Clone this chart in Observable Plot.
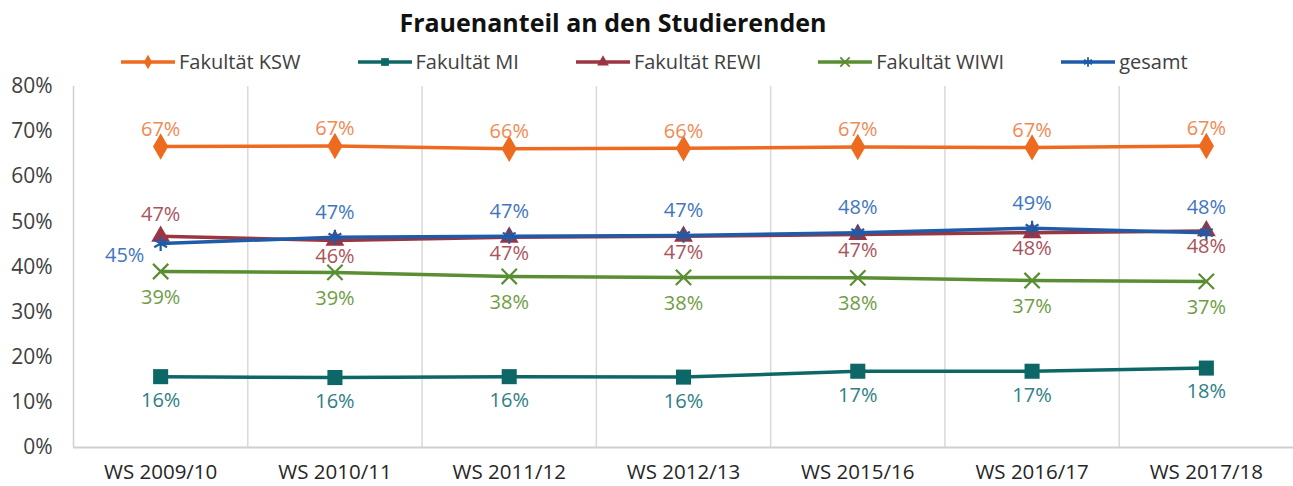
<!DOCTYPE html>
<html><head><meta charset="utf-8">
<script src="https://cdn.jsdelivr.net/npm/d3@7"></script>
<script src="https://cdn.jsdelivr.net/npm/@observablehq/plot@0.6"></script>
<style>
body{margin:0;background:#fff;font-family:"Open Sans",sans-serif;}
#title{position:absolute;left:0;width:1226px;top:5px;text-align:center;font-size:25px;font-weight:700;color:#111;}
#legend{position:absolute;top:48px;left:121px;display:flex;align-items:center;font-size:20px;color:#404040;white-space:nowrap;}
.item{display:flex;align-items:center;margin-right:57px;}
.item svg{margin-right:4px;}
#chart{position:absolute;top:78px;left:0;}
</style></head>
<body>
<div id="title">Frauenanteil an den Studierenden</div>
<div id="legend"></div>
<div id="chart"></div>
<script>
const categories = ["WS 2009/10","WS 2010/11","WS 2011/12","WS 2012/13","WS 2015/16","WS 2016/17","WS 2017/18"];
const seriesNames = ["Fakultät KSW","Fakultät MI","Fakultät REWI","Fakultät WIWI","gesamt"];
const ksw    = [66.7, 66.8, 66.2, 66.3, 66.6, 66.5, 66.8];
const mi     = [15.7, 15.5, 15.7, 15.6, 16.9, 16.9, 17.6];
const rewi   = [46.8, 45.9, 46.6, 46.8, 47.2, 47.6, 48.0];
const wiwi   = [39.0, 38.8, 37.9, 37.7, 37.6, 37.0, 36.8];
const gesamt = [45.2, 46.6, 46.8, 47.0, 47.6, 48.6, 47.6];
const yTicks = [0,10,20,30,40,50,60,70,80];

const colors = ["#EE6A1F","#0E6767","#9C3542","#5A8E32","#1E5BA8"];
const labelColors = ["#F08A55","#2E8085","#A9535C","#6F9C45","#4276BC"];
const symbols = ["diamond","square","triangle","times","asterisk"];
const values = [ksw, mi, rewi, wiwi, gesamt];

const data = [];
values.forEach((arr, s) => arr.forEach((v, i) => data.push({s, name: seriesNames[s], i, v})));

// legend
const leg = d3.select("#legend");
seriesNames.forEach((n, s) => {
  const it = leg.append("div").attr("class","item");
  const sv = it.append("svg").attr("width",54).attr("height",20);
  sv.append("line").attr("x1",0).attr("x2",54).attr("y1",10).attr("y2",10).attr("stroke",colors[s]).attr("stroke-width",3.5);
  const filled = s < 3;
  const sym = [d3.symbolDiamond, d3.symbolSquare, d3.symbolTriangle, d3.symbolTimes, d3.symbolAsterisk][s];
  sv.append("path").attr("transform","translate(27,10)").attr("d", d3.symbol(sym, 60)())
    .attr("fill", filled ? colors[s] : "none").attr("stroke", colors[s]).attr("stroke-width", filled ? 0 : 1.8);
  it.append("span").text(n);
});

const fmt = v => Math.round(v) + "%";
const sub = s => data.filter(d => d.s === s);
const boundaries = d3.range(1, categories.length).map(i => i - 0.5);

const textOpts = (s, extra) => ({x: "i", y: "v", text: d => fmt(d.v), fill: labelColors[s], fontSize: 20, ...extra});

const marks = [
  Plot.ruleX(boundaries, {stroke: "#d9d9d9", strokeWidth: 1.5}),
  Plot.ruleX([-0.5], {stroke: "#d0d0d0", strokeWidth: 1.5}),
  Plot.ruleY([0], {stroke: "#d0d0d0", strokeWidth: 2}),
  Plot.axisY({ticks: yTicks, tickSize: 0, tickPadding: 21, label: null, tickFormat: d => d + "%", fontSize: 21, fill: "#404040"}),
  Plot.axisX({ticks: d3.range(categories.length), tickSize: 0, tickPadding: 17, label: null, tickFormat: i => categories[i], fontSize: 20.5, fill: "#262626"})
];
// draw order: WIWI, MI, KSW, REWI, gesamt
[3,1,0,2,4].forEach(s => {
  marks.push(Plot.lineY(sub(s), {x: "i", y: "v", stroke: colors[s], strokeWidth: 3.5}));
  const filled = s < 3;
  const r = [8, 8.5, 7, 7, 7][s];
  marks.push(Plot.dot(sub(s), {x: "i", y: "v", symbol: () => symbols[s], r,
    fill: filled ? colors[s] : "none", stroke: colors[s], strokeWidth: filled ? 0 : 2.2}));
});
// labels
marks.push(Plot.text(sub(0), textOpts(0, {dy: -17})));
marks.push(Plot.text(sub(1), textOpts(1, {dy: 24})));
marks.push(Plot.text(sub(3), textOpts(3, {dy: 26})));
marks.push(Plot.text(sub(2).filter(d => d.i === 0), textOpts(2, {dy: -22})));
marks.push(Plot.text(sub(2).filter(d => d.i > 0), textOpts(2, {dy: 16})));
marks.push(Plot.text(sub(4).filter(d => d.i === 0), textOpts(4, {dx: -36, dy: 12})));
marks.push(Plot.text(sub(4).filter(d => d.i > 0), textOpts(4, {dy: -25})));

const chart = Plot.plot({
  width: 1293, height: 408,
  marginLeft: 73, marginRight: 0, marginTop: 8, marginBottom: 39,
  style: {fontFamily: "'Open Sans', sans-serif", background: "#fff", overflow: "visible"},
  x: {domain: [-0.5, categories.length - 0.5], axis: null},
  y: {domain: [0, 80], axis: null},
  marks
});
document.getElementById("chart").appendChild(chart);
</script>
</body></html>
